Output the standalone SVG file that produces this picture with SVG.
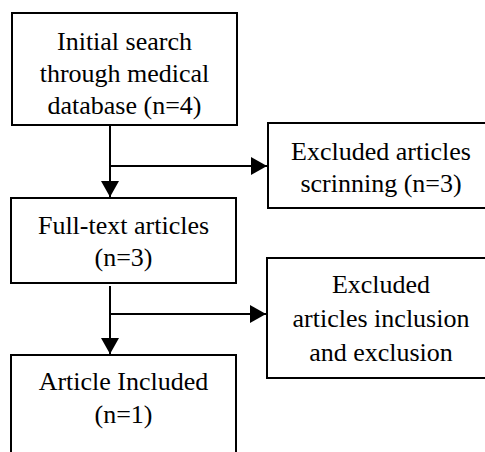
<svg xmlns="http://www.w3.org/2000/svg" width="485" height="452" viewBox="0 0 485 452">
<style>
.box{fill:#fff;stroke:#000;stroke-width:2}
.t{font-family:'Liberation Serif','Times New Roman',serif;font-size:26px;fill:#000;text-anchor:middle}
.c{fill:none;stroke:#000;stroke-width:2}
</style>
<defs>
<marker id="ah" markerUnits="userSpaceOnUse" markerWidth="16" markerHeight="18" refX="16" refY="9" orient="auto">
<path d="M0,0 L16,9 L0,18 Z" fill="#000"/>
</marker>
</defs>
<rect width="485" height="452" fill="#fff"/>
<g id="n1">
<rect class="box" x="12" y="13" width="225" height="112"/>
<text class="t" x="124.5" y="50">Initial search</text>
<text class="t" x="124.5" y="82">through medical</text>
<text class="t" x="124.5" y="114">database (n=4)</text>
</g>
<g id="n2">
<rect class="box" x="268" y="123" width="226" height="85"/>
<text class="t" x="381" y="160">Excluded articles</text>
<text class="t" x="381" y="192">scrinning (n=3)</text>
</g>
<g id="n3">
<rect class="box" x="11" y="198" width="225" height="85"/>
<text class="t" x="123.5" y="234">Full-text articles</text>
<text class="t" x="123.5" y="266">(n=3)</text>
</g>
<g id="n4">
<rect class="box" x="11" y="355" width="225" height="110"/>
<text class="t" x="123.5" y="390">Article Included</text>
<text class="t" x="123.5" y="423">(n=1)</text>
</g>
<g id="n5">
<rect class="box" x="267" y="258" width="227" height="120"/>
<text class="t" x="381" y="293">Excluded</text>
<text class="t" x="381" y="327">articles inclusion</text>
<text class="t" x="381" y="361">and exclusion</text>
</g>
<g id="connectors">
<path class="c" d="M110,126 V197" marker-end="url(#ah)"/>
<path class="c" d="M110,166 H267" marker-end="url(#ah)"/>
<path class="c" d="M110,286 V354" marker-end="url(#ah)"/>
<path class="c" d="M110,314 H266" marker-end="url(#ah)"/>
</g>
</svg>
